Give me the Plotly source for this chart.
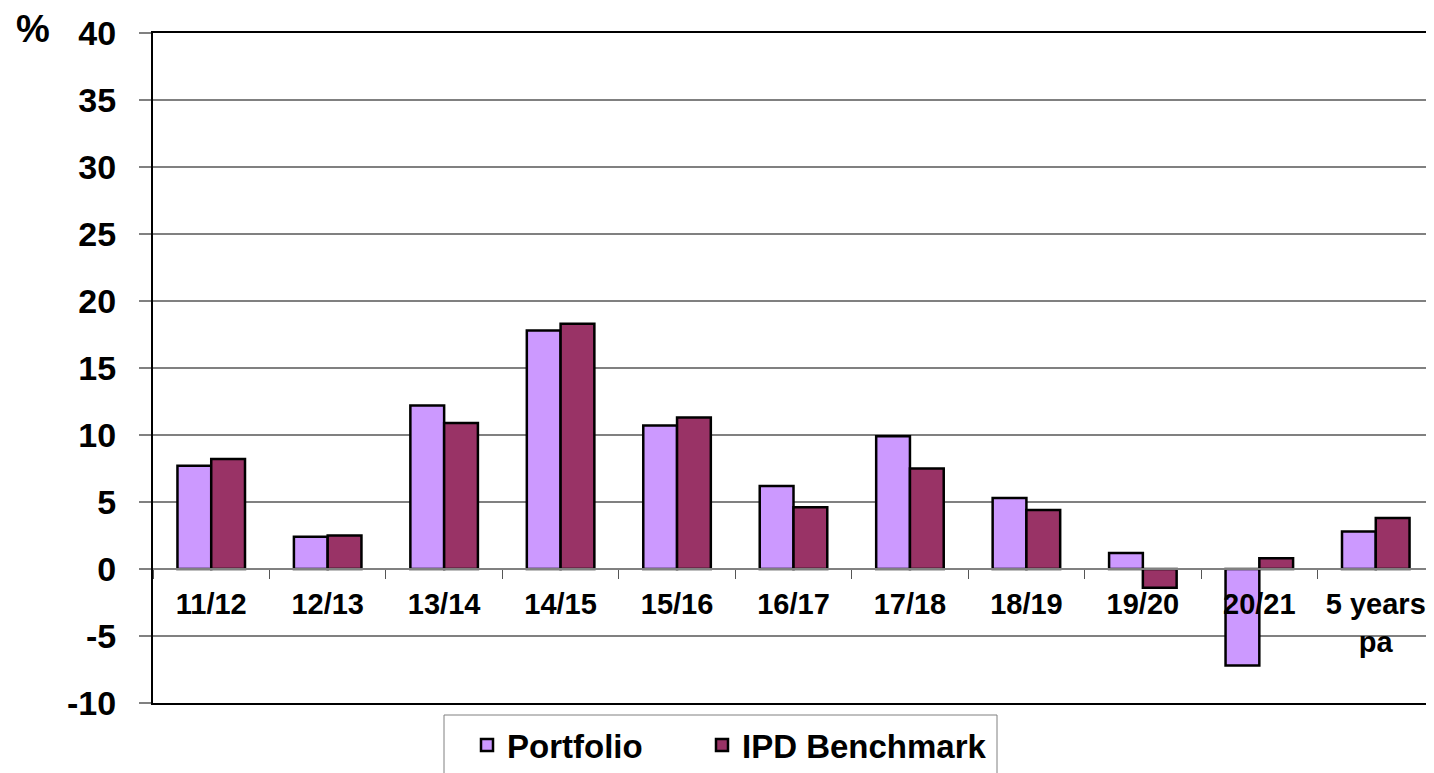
import plotly.graph_objects as go

categories = ["11/12", "12/13", "13/14", "14/15", "15/16", "16/17", "17/18",
              "18/19", "19/20", "20/21", "5 years<br>pa"]
portfolio = [7.7, 2.4, 12.2, 17.8, 10.7, 6.2, 9.9, 5.3, 1.2, -7.2, 2.8]
ipd_benchmark = [8.2, 2.5, 10.9, 18.3, 11.3, 4.6, 7.5, 4.4, -1.4, 0.8, 3.8]
y_ticks = [-10, -5, 0, 5, 10, 15, 20, 25, 30, 35, 40]

FONT = "Liberation Sans, Arial, sans-serif"
OFF = 8  # default page body margin
W, H = 1434 - OFF, 773 - OFF
ML, MR, MT, MB = 153 - OFF, 0, 33 - OFF, 70
PW, PH = W - ML - MR, H - MT - MB


def px_x(page_x):
    return (page_x - OFF - ML) / PW


def px_y(page_y):
    return (MT + PH - (page_y - OFF)) / PH


fig = go.Figure()
fig.add_trace(go.Bar(
    x=categories, y=portfolio, name="<b>Portfolio</b>", legend="legend",
    marker=dict(color="#CC99FF", line=dict(color="#000000", width=2.5)),
))
fig.add_trace(go.Bar(
    x=categories, y=ipd_benchmark, name="<b>IPD Benchmark</b>", legend="legend2",
    marker=dict(color="#993366", line=dict(color="#000000", width=2.5)),
))

ymin, ymax = -10, 40
zero_pos = (0 - ymin) / (ymax - ymin)
xrange = [-0.5, len(categories) - 0.5]

legend_common = dict(
    orientation="h", xanchor="left", xref="paper",
    yanchor="top", yref="container",
    font=dict(size=33, family=FONT, color="black"),
    borderwidth=0, bgcolor="rgba(0,0,0,0)", itemwidth=30,
)
legend_top = 1 - (745 - 28 - OFF) / H

fig.update_layout(
    width=W, height=H,
    margin=dict(l=ML, r=MR, t=MT, b=MB, autoexpand=False),
    paper_bgcolor="white", plot_bgcolor="white",
    barmode="group", bargap=0.42, bargroupgap=0,
    font=dict(family=FONT, color="black"),
    showlegend=True,
    legend=dict(x=px_x(467), y=legend_top, **legend_common),
    legend2=dict(x=px_x(702), y=legend_top, **legend_common),
    xaxis=dict(
        type="category", anchor="free", position=zero_pos, automargin=False,
        range=xrange, autorange=False,
        showline=True, linecolor="#808080", linewidth=2,
        ticks="outside", tickson="boundaries", ticklen=9, tickwidth=1,
        tickcolor="#555555",
        showgrid=False, zeroline=False,
        tickfont=dict(size=29, family=FONT, color="black"),
        ticklabelstandoff=9,
        tickprefix="<b>", ticksuffix="</b>",
    ),
    xaxis2=dict(
        type="category", overlaying="x", matches="x", anchor="y", side="bottom",
        automargin=False,
        showline=True, mirror=True, linecolor="black", linewidth=2,
        showticklabels=False, ticks="", showgrid=False, zeroline=False,
    ),
    yaxis=dict(
        range=[ymin, ymax], tickvals=y_ticks, automargin=False,
        ticktext=[f"<b>{v}</b>" for v in y_ticks],
        showgrid=True, gridcolor="#808080", gridwidth=1.5,
        zeroline=False,
        showline=True, linecolor="black", linewidth=2,
        ticks="outside", ticklen=12, tickcolor="#808080", tickwidth=1.5,
        tickfont=dict(size=34, family=FONT, color="black"),
        ticklabelstandoff=16,
    ),
    shapes=[dict(
        type="rect", xref="paper", yref="paper",
        x0=px_x(444), x1=px_x(997),
        y0=px_y(715), y1=px_y(800),
        line=dict(color="#808080", width=1), fillcolor="rgba(0,0,0,0)",
        layer="below",
    )],
    annotations=[dict(
        text="<b>%</b>", xref="paper", yref="paper",
        x=px_x(33), y=px_y(29),
        xanchor="center", yanchor="middle", showarrow=False,
        font=dict(size=38, family=FONT, color="black"),
    )],
)
fig.add_trace(go.Scatter(x=categories, y=[None] * len(categories), xaxis="x2",
                         mode="lines", showlegend=False, hoverinfo="skip"))

fig.write_html("out.html")
